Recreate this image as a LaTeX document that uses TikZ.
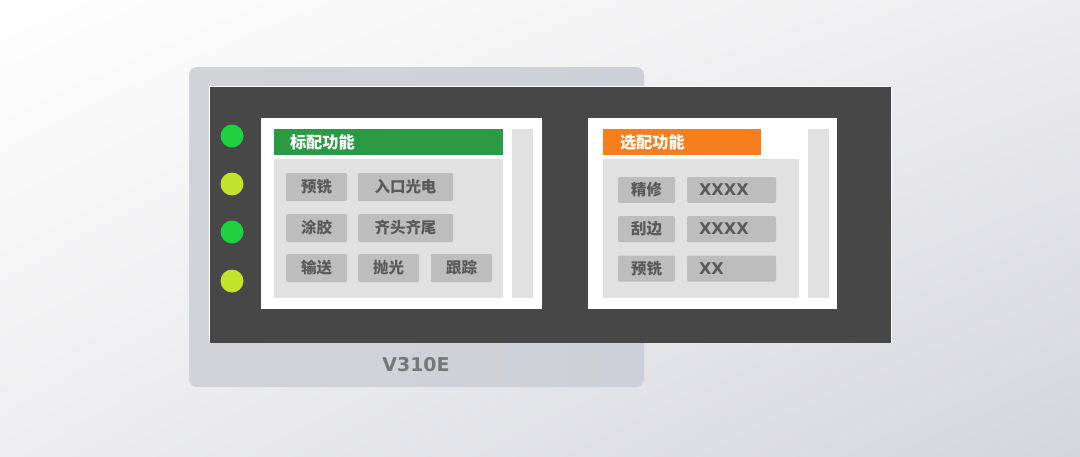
\documentclass[tikz,border=0pt]{standalone}
\usepackage{fontspec}
\newfontfamily\cjk{Noto Sans CJK SC}
\newfontfamily\latin{DejaVu Sans}
\usetikzlibrary{positioning,shadings}
\definecolor{BgTR}{HTML}{EDEDEF}
\definecolor{BgBL}{HTML}{EEEEF0}
\definecolor{BgBR}{HTML}{D5D6DB}
\definecolor{FrameL}{HTML}{D2D3D6}
\definecolor{FrameR}{HTML}{CDD0D8}
\definecolor{ScreenDark}{HTML}{474747}
\definecolor{LedGreen}{HTML}{1FD140}
\definecolor{LedLime}{HTML}{C3E22E}
\definecolor{HeadGreen}{HTML}{2C9A44}
\definecolor{HeadOrange}{HTML}{F77E1F}
\definecolor{PanelGray}{HTML}{E1E1E1}
\definecolor{BtnGray}{HTML}{BDBDBD}
\definecolor{BtnText}{HTML}{5A5A5A}
\definecolor{ModelGray}{HTML}{777777}

\begin{document}
\begin{tikzpicture}[
  box/.style={inner sep=0pt,outer sep=0pt,anchor=north west},
  panel/.style={box,fill=white},
  body/.style={box,fill=PanelGray},
  header/.style={box,minimum height=0.65cm,inner xsep=0.4cm,
    align=left,text=white,font=\cjk\bfseries\fontsize{11.5}{12}\selectfont},
  led/.style={circle,minimum size=0.575cm,inner sep=0pt},
  btn/.style={fill=BtnGray,rounded corners=1pt,inner sep=0pt,
    minimum width=1.525cm,minimum height=0.7cm,
    text=BtnText,font=\cjk\bfseries\fontsize{11}{12}\selectfont},
  sbtn/.style={btn,minimum width=1.425cm,minimum height=0.65cm},
  wbtn/.style={btn,minimum height=0.65cm,inner xsep=0.3cm,text width=1.625cm,
    align=left,font=\latin\bfseries\fontsize{11.5}{12}\selectfont},
]
\useasboundingbox (0,0) rectangle (27,-11.4);
\shade[upper left=white,upper right=BgTR,lower left=BgBL,lower right=BgBR]
  (0,0) rectangle (27,-11.4);

% —— 机身与屏幕 ——
\node[box,minimum width=11.375cm,minimum height=8cm,rounded corners=0.2cm,
  left color=FrameL,right color=FrameR] (frame) at (4.725,-1.675) {};
\node[box,fill=white,minimum width=17.075cm,minimum height=6.425cm] (edge) at (5.225,-2.15) {};
\node[box,fill=ScreenDark,minimum width=17.025cm,minimum height=6.4cm] (screen) at (5.25,-2.175) {};
\node[text=ModelGray,font=\latin\bfseries\fontsize{13.5}{14}\selectfont] (model) at (10.4,-9.125) {V310E};

\foreach \n/\y/\c in {1/-3.4/LedGreen,2/-4.6/LedLime,3/-5.8/LedGreen,4/-7.025/LedLime}
  \node[led,fill=\c] (led\n) at (5.8,\y) {};

% —— 标配功能 ——
\node[panel,minimum width=7.025cm,minimum height=4.775cm] (pnlA) at (6.525,-2.95) {};
\node[header,fill=HeadGreen,text width=4.925cm] (hdrA) at (6.85,-3.225) {标配功能};
\node[body,minimum width=5.725cm,minimum height=3.475cm] (bodyA) at (6.85,-3.975) {};
\node[body,minimum width=0.525cm,minimum height=4.225cm] (barA) at (12.8,-3.225) {};

\node[btn] (a1) at (7.9125,-4.675) {预铣};
\node[btn,minimum width=2.375cm] (a2) at (10.1375,-4.675) {入口光电};
\node[btn] (a3) at (7.9125,-5.7) {涂胶};
\node[btn,minimum width=2.375cm] (a4) at (10.1375,-5.7) {齐头齐尾};
\node[btn] (a5) at (7.9125,-6.7) {输送};
\node[btn] (a6) at (9.7125,-6.7) {抛光};
\node[btn] (a7) at (11.5375,-6.7) {跟踪};

% —— 选配功能 ——
\node[panel,minimum width=6.225cm,minimum height=4.775cm] (pnlB) at (14.7,-2.95) {};
\node[header,fill=HeadOrange,text width=3.1cm,inner xsep=0.425cm] (hdrB) at (15.075,-3.225) {选配功能};
\node[body,minimum width=4.9cm,minimum height=3.475cm] (bodyB) at (15.075,-3.975) {};
\node[body,minimum width=0.525cm,minimum height=4.225cm] (barB) at (20.2,-3.225) {};

\node[sbtn] (b1) at (16.1625,-4.75) {精修};
\node[wbtn] (b2) at (18.2875,-4.75) {XXXX};
\node[sbtn] (b3) at (16.1625,-5.725) {刮边};
\node[wbtn] (b4) at (18.2875,-5.725) {XXXX};
\node[sbtn] (b5) at (16.1625,-6.7125) {预铣};
\node[wbtn] (b6) at (18.2875,-6.7125) {XX};
\end{tikzpicture}
\end{document}
